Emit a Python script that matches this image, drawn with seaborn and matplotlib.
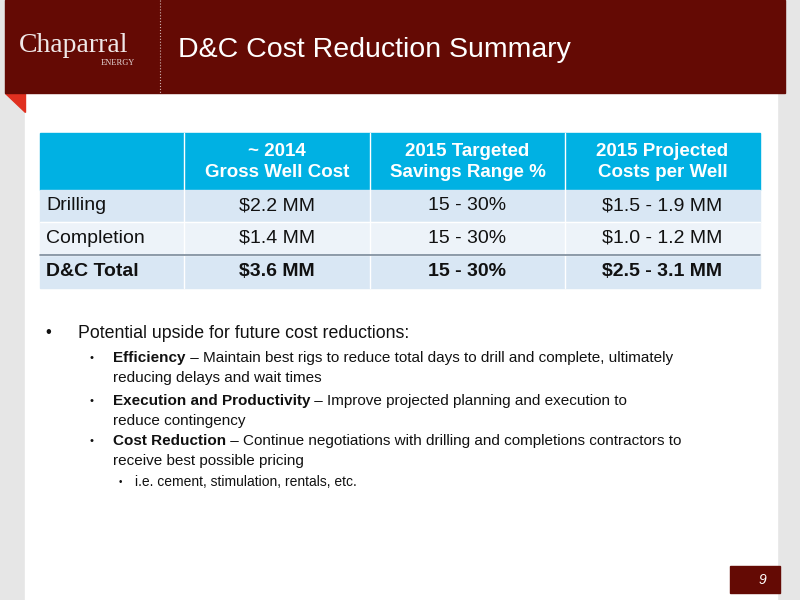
import matplotlib
matplotlib.use("Agg")
import matplotlib.pyplot as plt
import matplotlib.patches as mp
import seaborn as sns

sns.set_style("white")
plt.rcParams['font.family'] = ['Liberation Sans', 'DejaVu Sans']

title = "D&C Cost Reduction Summary"
columns = ["", "~ 2014\nGross Well Cost", "2015 Targeted\nSavings Range %", "2015 Projected\nCosts per Well"]
row_labels = ["Drilling", "Completion", "D&C Total"]
gross_cost = ["$2.2 MM", "$1.4 MM", "$3.6 MM"]
savings = ["15 - 30%", "15 - 30%", "15 - 30%"]
projected = ["$1.5 - 1.9 MM", "$1.0 - 1.2 MM", "$2.5 - 3.1 MM"]
page = "9"

RED = "#640a04"
fig = plt.figure(figsize=(8, 6), dpi=100)
ax = fig.add_axes([0, 0, 1, 1])
ax.set_xlim(0, 800); ax.set_ylim(600, 0); ax.axis("off")
fig.patch.set_facecolor("#e6e6e6")
ax.add_patch(mp.Rectangle((25, 90), 752, 510, color="white", zorder=0))
ax.add_patch(mp.Polygon([[5, 93], [25, 93], [25, 112]], color="#e03020", zorder=1))
ax.add_patch(mp.Rectangle((5, 0), 780, 93, color=RED, zorder=1))
ax.plot([160, 160], [0, 93], color="white", ls=":", lw=0.8, alpha=0.7, zorder=2)
ax.text(19, 46, "Chaparral", color="#f0e8e8", fontsize=20, family="Liberation Serif",
        va="center", ha="left", zorder=3)
ax.text(118, 63, "ENERGY", color="#e8dada", fontsize=6, family="Liberation Serif", ha="center", va="center", zorder=3)
ax.text(178, 50, title, color="white", fontsize=20.5, va="center", ha="left", zorder=3)

# table
xs = [40, 184, 370, 565, 760]
ys = [133, 190, 222, 255, 288]
ax.add_patch(mp.Rectangle((40, 133), 720, 57, color="#00b1e3", zorder=1))
fills = ["#d9e7f4", "#edf3f9", "#d9e7f4"]
for i in range(3):
    ax.add_patch(mp.Rectangle((40, ys[i+1]), 720, ys[i+2]-ys[i+1], color=fills[i], zorder=1))
for x in xs[1:-1]:
    ax.plot([x, x], [133, 288], color="white", lw=1, zorder=2)
for y in ys[2:4]:
    ax.plot([40, 760], [y, y], color="white", lw=1, zorder=2)
ax.plot([40, 760], [255, 255], color="#7a8a99", lw=1.2, zorder=3)
for j in range(1, 4):
    ax.text((xs[j]+xs[j+1])/2, 162, columns[j], color="white", fontsize=13.5, weight="bold",
            ha="center", va="center", linespacing=1.3, zorder=3)
vals = list(zip(row_labels, gross_cost, savings, projected))
for i, row in enumerate(vals):
    yc = (ys[i+1]+ys[i+2])/2
    w = "bold" if i == 2 else "normal"
    ax.text(46, yc, row[0], fontsize=14, weight=w, ha="left", va="center", color="#111", zorder=3)
    for j in range(1, 4):
        ax.text((xs[j]+xs[j+1])/2, yc, row[j], fontsize=14, weight=w, ha="center",
                va="center", color="#111", zorder=3)

# bullets
fig.canvas.draw()
r = fig.canvas.get_renderer()
def mixed(x, y, b, rest, size):
    t = ax.text(x, y, b, fontsize=size, weight="bold", va="center", ha="left", color="#111")
    bb = t.get_window_extent(r)
    x2 = ax.transData.inverted().transform((bb.x1, bb.y0))[0]
    ax.text(x2, y, rest, fontsize=size, va="center", ha="left", color="#111")

ax.text(45, 333, "•", fontsize=12, va="center", color="#111")
ax.text(78, 333, "Potential upside for future cost reductions:", fontsize=12.8, va="center", color="#111")
items = [(358, "Efficiency", " – Maintain best rigs to reduce total days to drill and complete, ultimately", "reducing delays and wait times"),
         (401, "Execution and Productivity", " – Improve projected planning and execution to", "reduce contingency"),
         (441, "Cost Reduction", " – Continue negotiations with drilling and completions contractors to", "receive best possible pricing")]
for y, b, rest, cont in items:
    ax.text(89, y, "•", fontsize=8, va="center", color="#111")
    mixed(113, y, b, rest, 11)
    ax.text(113, y+20, cont, fontsize=11, va="center", color="#111")
ax.text(119, 482, "•", fontsize=7, va="center", color="#111")
ax.text(135, 482, "i.e. cement, stimulation, rentals, etc.", fontsize=10, va="center", color="#111")

ax.add_patch(mp.Rectangle((730, 566), 50, 27, color=RED, zorder=1))
ax.text(762, 580, page, color="white", fontsize=10, style="italic", ha="center", va="center", zorder=3)

fig.savefig("out.png", dpi=100, facecolor=fig.get_facecolor())
